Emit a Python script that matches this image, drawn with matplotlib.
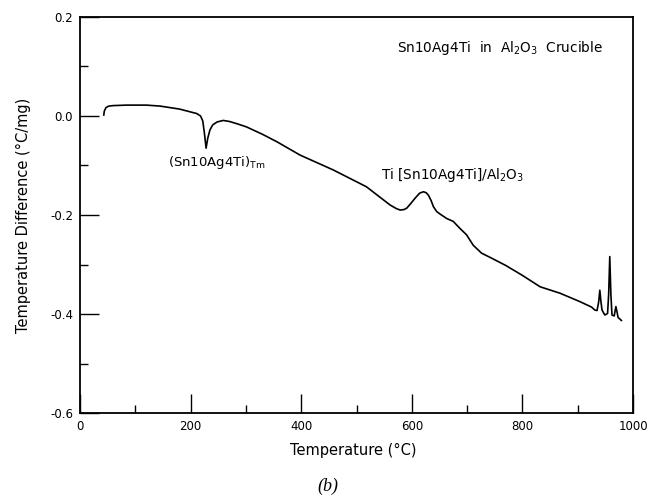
import matplotlib
matplotlib.use('Agg')
import matplotlib.pyplot as plt
from matplotlib.ticker import MultipleLocator, FormatStrFormatter

# DTA trace
temperature = [43, 44, 47, 52, 60, 84, 120, 145, 180, 211, 218, 222, 225, 228,
               231, 235, 240, 248, 259, 270, 285, 301, 330, 356, 398, 458, 518,
               561, 572, 579, 586, 591, 598, 606, 614, 621, 626, 630, 635, 639,
               645, 651, 663, 675, 687, 699, 711, 726, 744, 770, 800, 832, 868,
               904, 925, 931, 935, 938, 940, 942, 944, 949, 954, 956, 958, 960,
               962, 966, 969, 971, 973, 979]
temp_diff = [0.002, 0.010, 0.017, 0.020, 0.021, 0.022, 0.022, 0.020, 0.014,
             0.005, 0.000, -0.010, -0.035, -0.065, -0.045, -0.028, -0.018,
             -0.012, -0.009, -0.011, -0.016, -0.022, -0.037, -0.052, -0.079,
             -0.109, -0.143, -0.180, -0.187, -0.190, -0.189, -0.186, -0.177,
             -0.166, -0.156, -0.153, -0.155, -0.160, -0.171, -0.183, -0.193,
             -0.198, -0.207, -0.213, -0.227, -0.240, -0.261, -0.277, -0.287,
             -0.302, -0.322, -0.345, -0.358, -0.375, -0.386, -0.392, -0.393,
             -0.375, -0.352, -0.375, -0.392, -0.402, -0.399, -0.360, -0.284,
             -0.360, -0.402, -0.404, -0.385, -0.395, -0.407, -0.413]

x_ticks = [0, 200, 400, 600, 800, 1000]
y_ticks = [-0.6, -0.4, -0.2, 0.0, 0.2]

plt.rcParams['font.family'] = 'DejaVu Sans'
plt.rcParams['mathtext.default'] = 'regular'
plt.rcParams['axes.unicode_minus'] = False

W, H = 654, 499
fig = plt.figure(figsize=(W / 100, H / 100), dpi=100)
ax = fig.add_axes([80 / W, 86 / H, 553 / W, 396 / H])

ax.plot(temperature, temp_diff, color='black', lw=1.2)

ax.set_xlim(0, 1000)
ax.set_ylim(-0.6, 0.2)
ax.set_xticks(x_ticks)
ax.set_yticks(y_ticks)
ax.xaxis.set_minor_locator(MultipleLocator(100))
ax.yaxis.set_minor_locator(MultipleLocator(0.1))
ax.yaxis.set_major_formatter(FormatStrFormatter('%.1f'))
ax.tick_params(which='both', direction='in', top=False, right=False,
               width=1, labelsize=8.5, pad=5)
ax.tick_params(which='major', length=14)
ax.tick_params(which='minor', length=6)
for spine in ax.spines.values():
    spine.set_linewidth(1.3)

fig.text(353 / W, 1 - 450 / H, 'Temperature (°C)', ha='center', va='center',
         fontsize=10.5)
fig.text(23 / W, 1 - 215 / H, 'Temperature Difference (°C/mg)', ha='center',
         va='center', rotation=90, fontsize=10.5)
fig.text(328 / W, 1 - 486 / H, '(b)', ha='center', va='center', fontsize=13,
         family='Liberation Serif', style='italic')

ax.text(759, 0.137, 'Sn10Ag4Ti  in  Al$_2$O$_3$  Crucible', ha='center',
        va='center', fontsize=9.8)
ax.text(248, -0.093, '(Sn10Ag4Ti)$_{Tm}$', ha='center', va='center',
        fontsize=9.5)
ax.text(673, -0.119, 'Ti [Sn10Ag4Ti]/Al$_2$O$_3$', ha='center', va='center',
        fontsize=9.8)

fig.savefig('out.png', dpi=100)
